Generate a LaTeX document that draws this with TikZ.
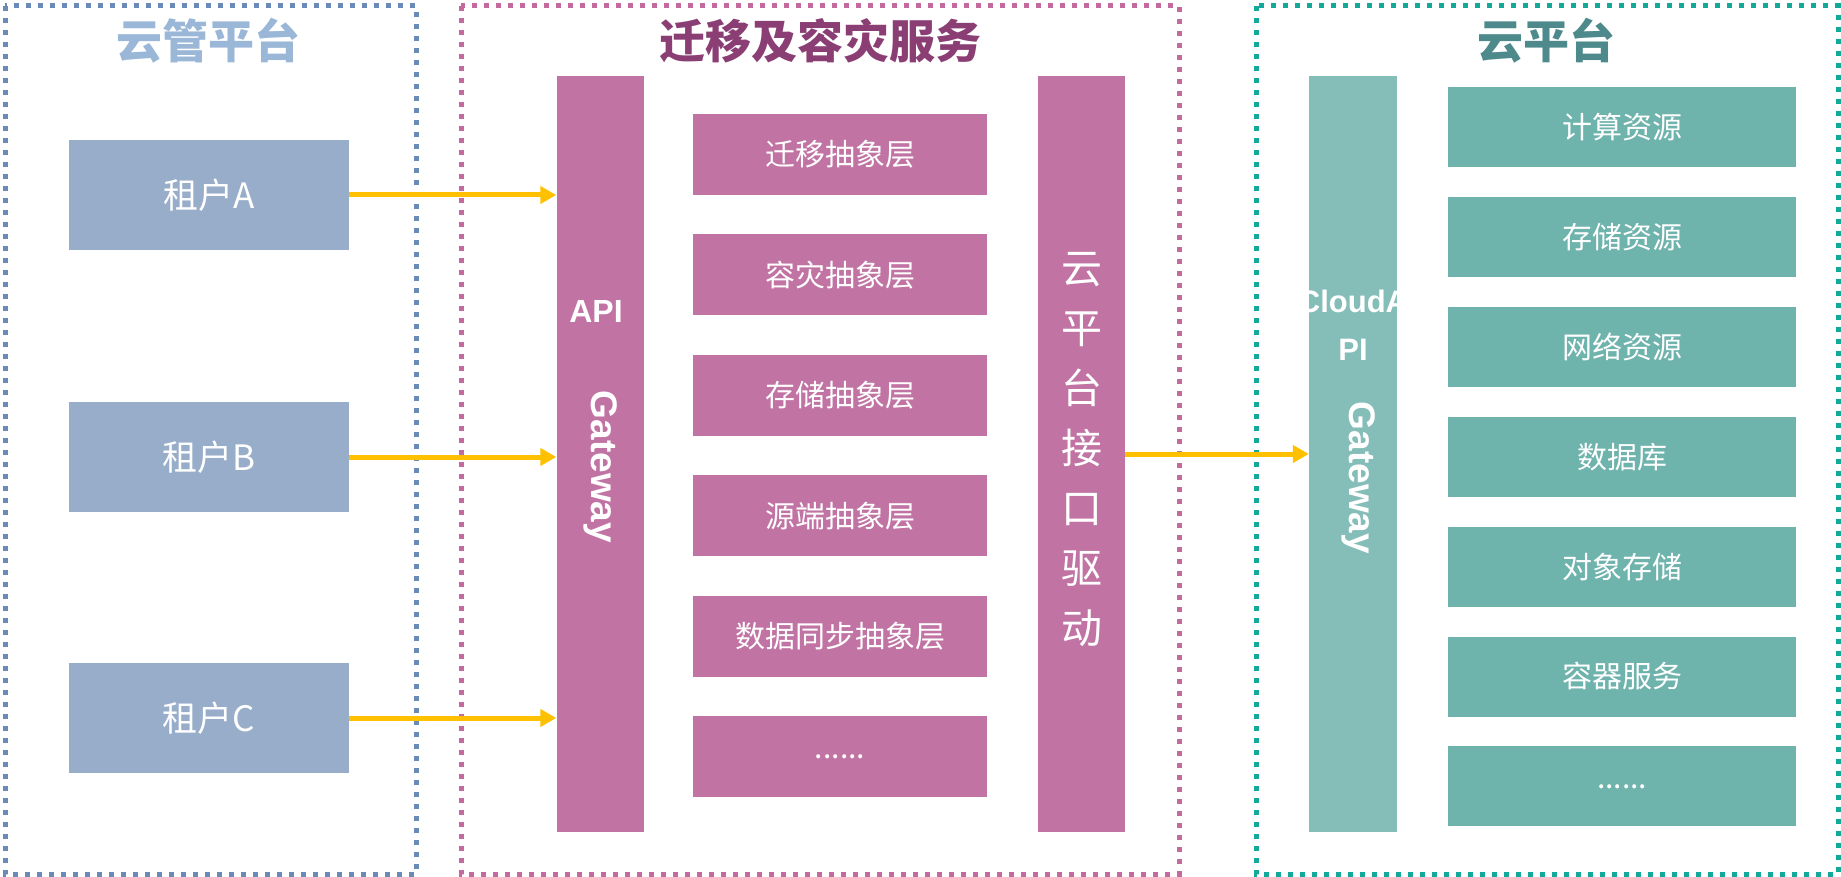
\documentclass[tikz,border=0pt]{standalone}
\usepackage{fontspec}
\setmainfont{Noto Sans CJK SC}
\newfontfamily\gwfont{Liberation Sans}
\usetikzlibrary{positioning,arrows.meta}
\definecolor{mgmtline}{HTML}{6A8AB8}
\definecolor{mgmttitle}{HTML}{9AB7D7}
\definecolor{tenantfill}{HTML}{97ADC9}
\definecolor{migline}{HTML}{C46A9E}
\definecolor{migtitle}{HTML}{8A3E74}
\definecolor{migfill}{HTML}{C174A4}
\definecolor{cloudline}{HTML}{12A99B}
\definecolor{cloudtitle}{HTML}{4E8A8C}
\definecolor{gwfill}{HTML}{85BEB8}
\definecolor{resfill}{HTML}{6FB3AD}
\definecolor{flowc}{HTML}{FFC000}

\begin{document}
\begin{tikzpicture}[x=1pt, y=-1pt, every node/.style={align=center, inner sep=0pt},
  zone/.style={line width=5pt, dash pattern=on 5pt off 7pt},
  title/.style={font=\fontsize{46}{46}\selectfont\bfseries},
  tenant/.style={fill=tenantfill, text=white, minimum width=280pt, minimum height=110pt, font=\fontsize{35}{35}\selectfont},
  layer/.style={fill=migfill, text=white, minimum width=294pt, minimum height=81pt, font=\fontsize{30}{30}\selectfont},
  res/.style={fill=resfill, text=white, minimum width=348pt, minimum height=80pt, font=\fontsize{30}{30}\selectfont},
  bar/.style={minimum width=87pt, minimum height=756pt},
  gwtext/.style={text=white, font=\gwfont\bfseries\fontsize{37}{37}\selectfont},
  flow/.style={draw=flowc, line width=5pt, -{Triangle[length=16pt,width=17pt]}}]
\useasboundingbox (0,0) rectangle (1841,877);

% three zones
\draw[zone, mgmtline] (5,6) rectangle (416,874);
\draw[zone, migline] (461,6) rectangle (1179,874);
\draw[zone, cloudline] (1256,6) rectangle (1838,874);
\node (mgmtT) [title, text=mgmttitle] at (208,41) {云管平台};
\node (migT) [title, text=migtitle] at (820,41) {迁移及容灾服务};
\node (cloudT) [title, text=cloudtitle] at (1546,41) {云平台};

% tenants
\node (tA) [tenant] at (209,195) {租户A};
\node (tB) [tenant] at (209,457) {租户B};
\node (tC) [tenant] at (209,718) {租户C};

% migration and DR service
\node (api) [bar, fill=migfill] at (600,454) {};
\node (apiL) [gwtext, font=\gwfont\bfseries\fontsize{32}{32}\selectfont] at (596,311) {API};
\node (apiG) [gwtext, rotate=-90] at (601,467) {Gateway};
\node (l1) [layer] at (840,154.5) {迁移抽象层};
\node (l2) [layer, below=39pt of l1] {容灾抽象层};
\node (l3) [layer, below=39pt of l2] {存储抽象层};
\node (l4) [layer, below=39pt of l3] {源端抽象层};
\node (l5) [layer, below=39pt of l4] {数据同步抽象层};
\node (l6) [layer, below=39pt of l5] {......};
\node (drv) [bar, fill=migfill] at (1081.5,454) {};
\node (drvL) [text=white, font=\fontsize{41}{60}\selectfont] at (1081.5,450) {云\\平\\台\\接\\口\\驱\\动};

% cloud platform
\node (cgw) [bar, fill=gwfill, minimum width=88pt] at (1353,454) {};
\node (cgwL) [gwtext, font=\gwfont\bfseries\fontsize{31}{48}\selectfont] at (1353,325) {CloudA\\PI};
\node (cgwG) [gwtext, rotate=-90] at (1359,478) {Gateway};
\node (r1) [res] at (1622,127) {计算资源};
\node (r2) [res, below=29.5pt of r1] {存储资源};
\node (r3) [res, below=29.5pt of r2] {网络资源};
\node (r4) [res, below=29.5pt of r3] {数据库};
\node (r5) [res, below=29.5pt of r4] {对象存储};
\node (r6) [res, below=29.5pt of r5] {容器服务};
\node (r7) [res, below=29.5pt of r6] {......};

\draw[flow] (tA.east) -- (tA.east -| api.west);
\draw[flow] (tB.east) -- (tB.east -| api.west);
\draw[flow] (tC.east) -- (tC.east -| api.west);
\draw[flow] (drv.east) -- (cgw.west);
\end{tikzpicture}
\end{document}
